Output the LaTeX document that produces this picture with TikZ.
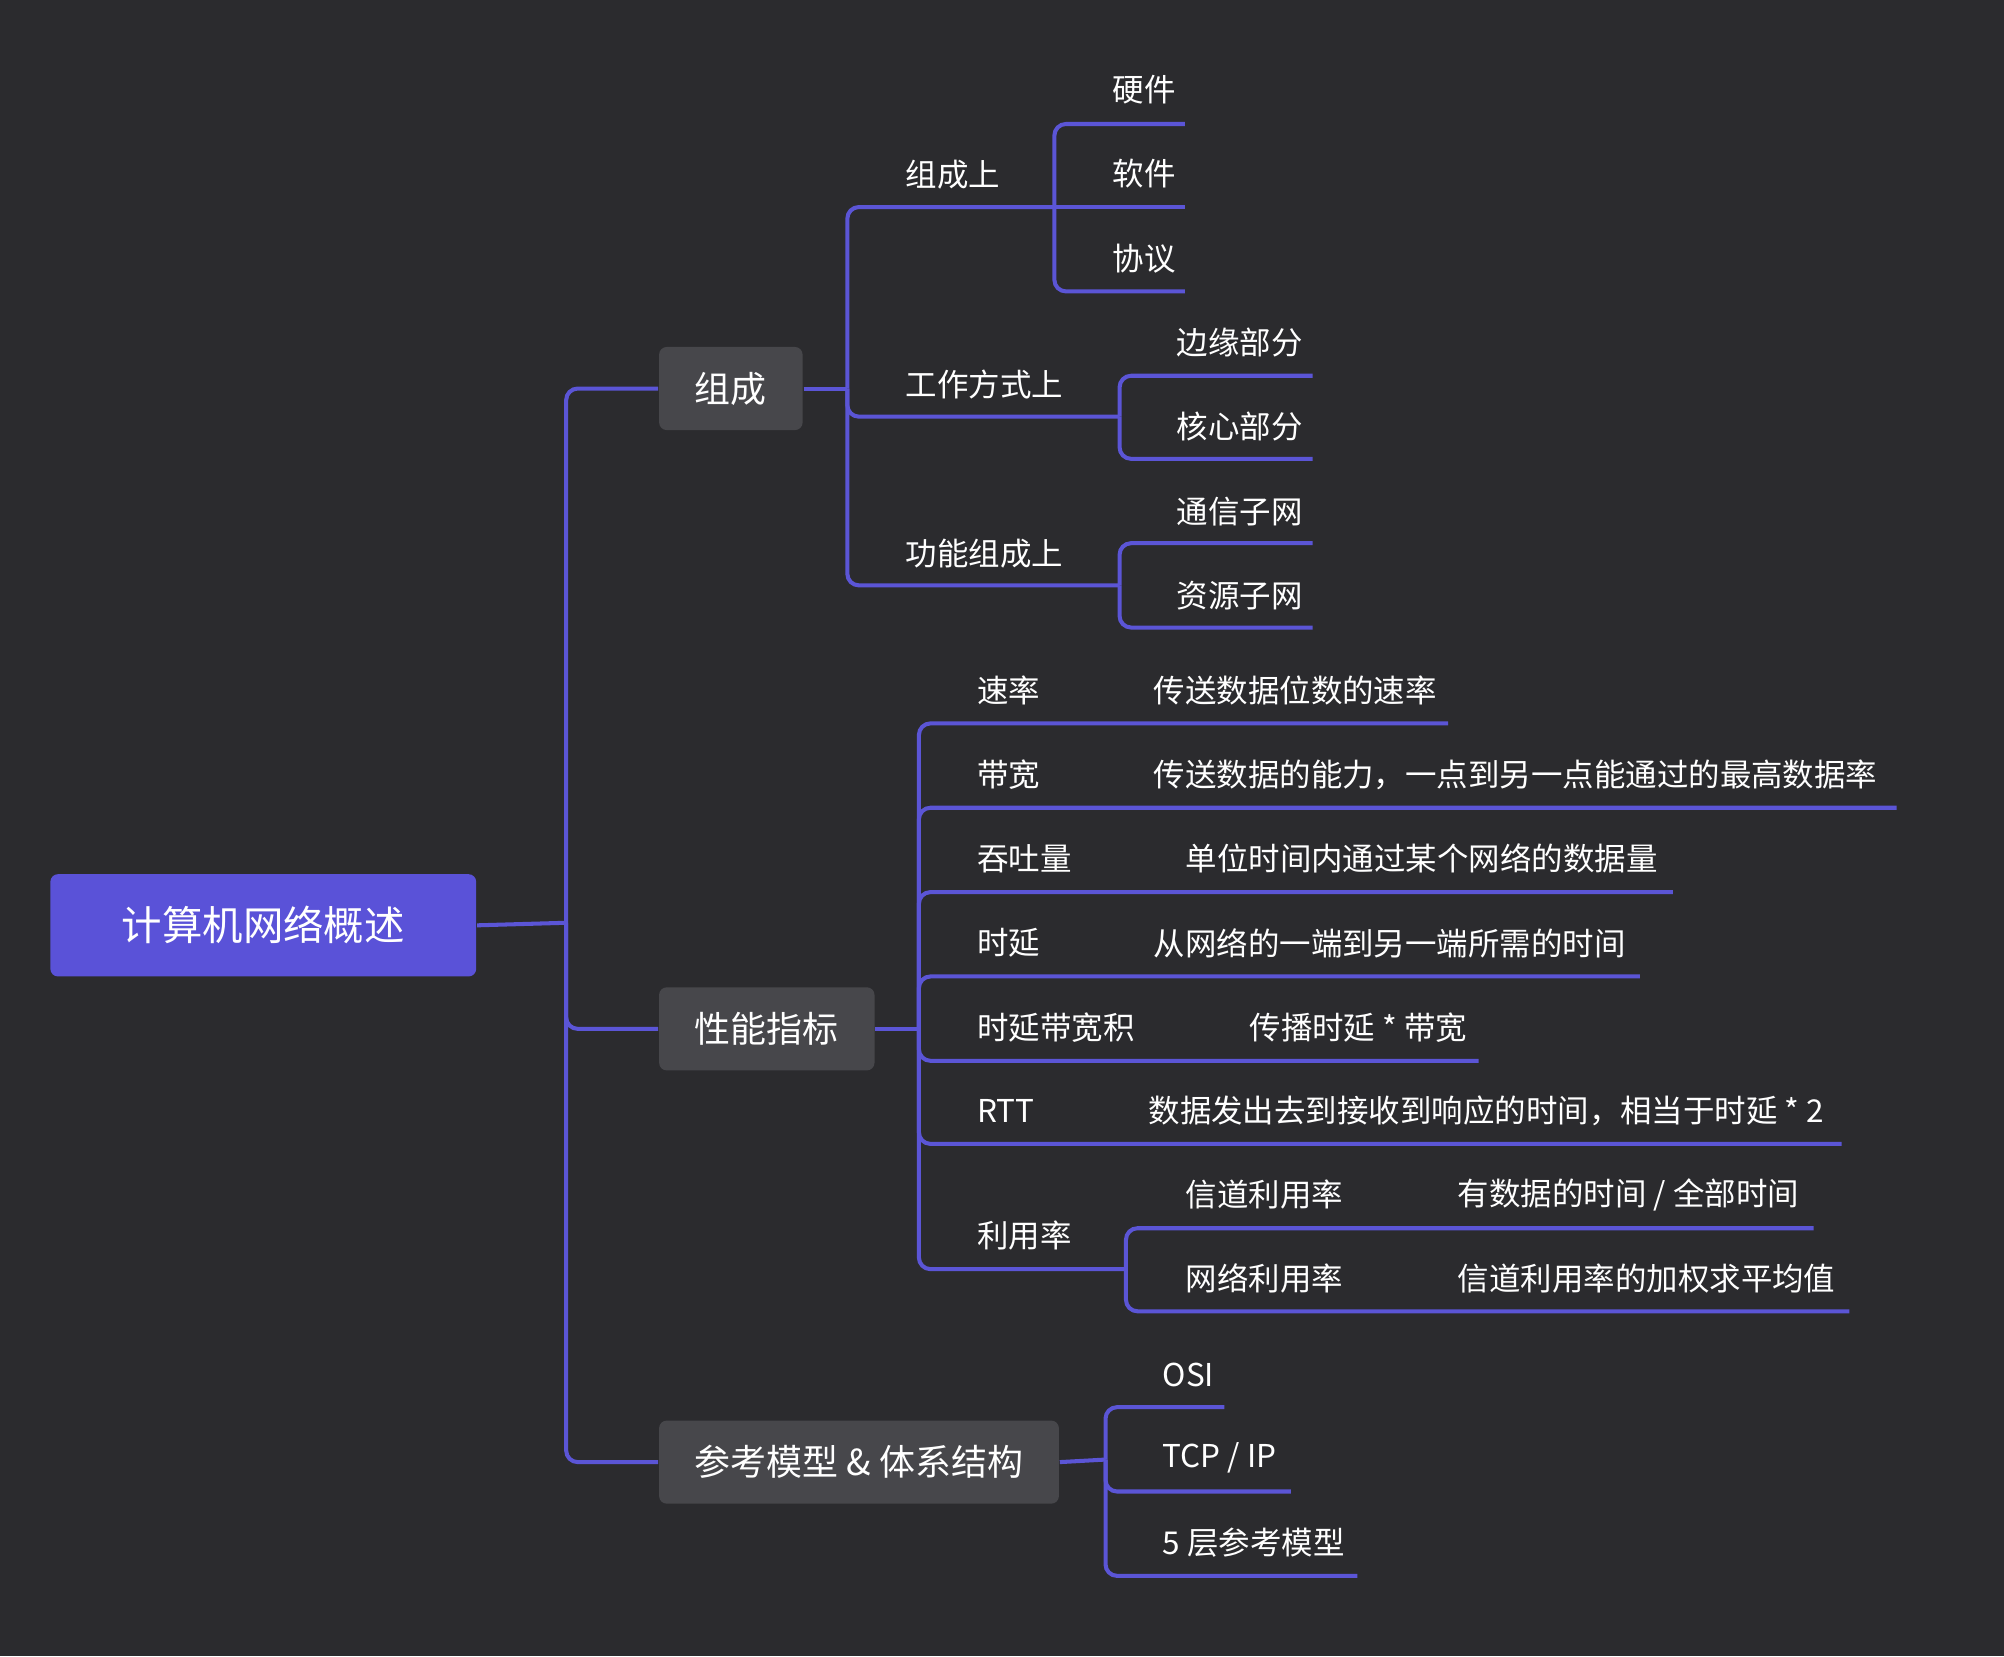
\documentclass[tikz,border=0pt]{standalone}
\usepackage{fontspec}
\setmainfont{Noto Sans CJK SC}
\usetikzlibrary{positioning}
\definecolor{bg}{HTML}{2B2B2E}
\definecolor{line}{HTML}{5B55D6}
\definecolor{rootfill}{HTML}{5A52D8}
\definecolor{boxfill}{HTML}{47474B}
\begin{document}
\begin{tikzpicture}[x=0.01cm, y=-0.01cm,
  link/.style = {draw=line, line width=0.9pt, rounded corners=0.09cm},
  root/.style = {fill=rootfill, rounded corners=0.06cm, text=white, font=\fontsize{9}{10}\selectfont, minimum width=3.33cm, minimum height=0.8cm},
  topic/.style = {fill=boxfill, rounded corners=0.06cm, text=white, font=\fontsize{8}{9}\selectfont, minimum height=0.65cm, inner xsep=0.28cm},
  leaf/.style = {anchor=west, text=white, font=\fontsize{7}{8}\selectfont, inner sep=0pt}]
\fill[bg] (0,0) rectangle (1568,1296);
\useasboundingbox (0,0) rectangle (1568,1296);
% root and topics
\node[root] (root) at (206,724) {计算机网络概述};
\node[topic, anchor=west] (zc) at (515,304) {组成};
\node[topic, anchor=west] (xn) at (515,805) {性能指标};
\node[topic, anchor=west] (ck) at (515,1144) {参考模型 \& 体系结构};
\draw[link] (root.east) -- (443,722);
\draw[link] (443,722) |- (zc.west);
\draw[link] (443,722) |- (xn.west);
\draw[link] (443,722) |- (ck.west);
% 组成
\node[leaf] (zcs) at (708,137) {组成上};
\node[leaf] (gzfs) at (708,301) {工作方式上};
\node[leaf] (gnzc) at (708,433) {功能组成上};
\coordinate (zcs-e) at (825,162);
\coordinate (gzfs-e) at (876,326);
\coordinate (gnzc-e) at (876,458);
\draw[link] (zc.east) -- (663,304);
\draw[link] (663,304) |- (zcs-e);
\draw[link] (663,304) |- (gzfs-e);
\draw[link] (663,304) |- (gnzc-e);
\node[leaf] (yj) at (870,70) {硬件};
\node[leaf] (rj) at (870,136) {软件};
\node[leaf] (xy) at (870,202) {协议};
\draw[link] (825,162) |- (927,97);
\draw[link] (825,162) -- (927,162);
\draw[link] (825,162) |- (927,228);
\node[leaf] (byb) at (920,268) {边缘部分};
\node[leaf] (hxb) at (920,334) {核心部分};
\draw[link] (876,326) |- (1027,294);
\draw[link] (876,326) |- (1027,359);
\node[leaf] (txzw) at (920,400) {通信子网};
\node[leaf] (zyzw) at (920,466) {资源子网};
\draw[link] (876,458) |- (1027,425);
\draw[link] (876,458) |- (1027,491);
% 性能指标
\draw[link] (xn.east) -- (719,805);
\foreach \name/\txt/\dx/\desc/\y/\xe in {
  sl/速率/902/传送数据位数的速率/540/1133,
  dk/带宽/902/{传送数据的能力，一点到另一点能通过的最高数据率}/606/1484,
  tt/吞吐量/927/单位时间内通过某个网络的数据量/672/1309,
  sy/时延/902/从网络的一端到另一端所需的时间/738/1283,
  sydk/时延带宽积/977/{传播时延 * 带宽}/804/1157,
  rtt/RTT/898/{数据发出去到接收到响应的时间，相当于时延 * 2}/869/1441}{
  \node[leaf] (\name) at (764,\y) {\txt};
  \node[leaf] (\name-d) at (\dx,\y) {\desc};
  \draw[link] (719,805) |- (\xe,\y+26);
}
\node[leaf] (lyl) at (764,967) {利用率};
\draw[link] (719,805) |- (881,993);
\node[leaf] (xdl) at (927,935) {信道利用率};
\node[leaf] (xdl-d) at (1140,935) {有数据的时间 / 全部时间};
\node[leaf] (wll) at (927,1000) {网络利用率};
\node[leaf] (wll-d) at (1140,1000) {信道利用率的加权求平均值};
\draw[link] (881,993) |- (1419,961);
\draw[link] (881,993) |- (1447,1026);
% 参考模型
\draw[link] (ck.east) -- (865,1142);
\node[leaf] (osi) at (909,1076) {OSI};
\node[leaf] (tcp) at (909,1141) {TCP / IP};
\node[leaf] (wc) at (909,1207) {5 层参考模型};
\draw[link] (865,1142) |- (958,1101);
\draw[link] (865,1142) |- (1010,1167);
\draw[link] (865,1142) |- (1062,1233);
\end{tikzpicture}
\end{document}
